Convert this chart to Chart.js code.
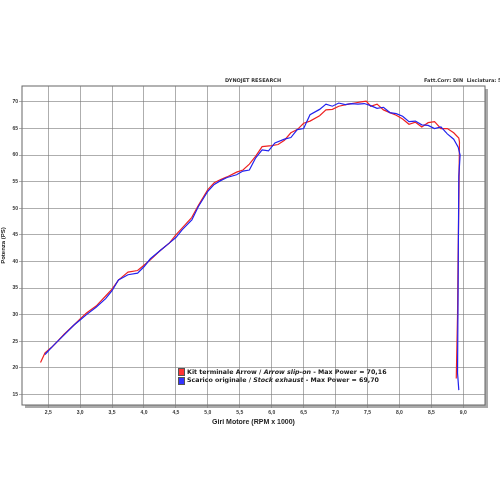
<!DOCTYPE html><html><head><script src="https://cdn.jsdelivr.net/npm/chart.js@4"></script>
<style>body{margin:0;background:#fff;font-family:"DejaVu Sans",sans-serif}#w{position:absolute;left:0;top:0;width:500px;height:500px}
.t{position:absolute;font-size:5px;font-weight:bold;color:#333;white-space:nowrap}
#lg{position:absolute;left:178px;top:368px;font-size:6.3px;font-weight:bold;color:#222;line-height:7px;white-space:nowrap}
#lg span.b{display:inline-block;width:5px;height:6px;vertical-align:middle;margin-right:2px;border:0.5px solid #555}</style></head><body>
<div id="w"><canvas id="c" width="500" height="500"></canvas></div>
<div class="t" style="left:225px;top:77px">DYNOJET RESEARCH</div>
<div class="t" style="left:424px;top:77px">Fatt.Corr: DIN&nbsp; Lisciatura: 5</div>
<div id="lg"><div><span class="b" style="background:#f33"></span>Kit terminale Arrow / <i>Arrow slip-on</i> - Max Power = 70,16</div><div><span class="b" style="background:#33f"></span>Scarico originale / <i>Stock exhaust</i> - Max Power = 69,70</div></div>
<script>
const xTicks=[2.5,3.0,3.5,4.0,4.5,5.0,5.5,6.0,6.5,7.0,7.5,8.0,8.5,9.0];
const yTicks=[15,20,25,30,35,40,45,50,55,60,65,70];
const redRpm=[2.38,2.45,2.55,2.65,2.75,2.9,3.0,3.1,3.25,3.4,3.5,3.6,3.75,3.9,4.0,4.1,4.25,4.4,4.5,4.6,4.75,4.85,5.0,5.1,5.2,5.3,5.45,5.55,5.65,5.75,5.85,6.0,6.1,6.2,6.3,6.4,6.5,6.6,6.75,6.85,6.95,7.05,7.2,7.3,7.4,7.48,7.55,7.65,7.75,7.85,7.95,8.05,8.15,8.25,8.35,8.45,8.55,8.65,8.75,8.85,8.93,8.94,8.91,8.89];
const redPs=[21,22.8,23.8,25,26.3,28,29.2,30.3,31.6,33.5,34.8,36.5,38,38.3,39.3,40.3,42,43.5,45,46.3,48.3,50.5,53.5,54.8,55.4,55.9,56.8,57.2,58.3,59.8,61.6,61.8,62,62.8,64.2,64.8,66,66.4,67.4,68.5,68.6,69.2,69.6,69.8,70.0,70.16,69.2,69.6,68.5,68,67.5,66.8,65.8,66.2,65.3,66.1,66.3,65,65,64.2,63.2,62.5,30,18];
const blueRpm=[2.45,2.55,2.65,2.75,2.9,3.0,3.1,3.25,3.4,3.5,3.6,3.75,3.9,4.0,4.1,4.25,4.4,4.5,4.6,4.75,4.85,5.0,5.1,5.2,5.3,5.45,5.55,5.65,5.75,5.85,5.95,6.05,6.2,6.3,6.4,6.5,6.6,6.75,6.85,6.95,7.05,7.15,7.25,7.35,7.45,7.55,7.65,7.75,7.85,7.95,8.05,8.15,8.25,8.35,8.45,8.55,8.65,8.75,8.85,8.92,8.95,8.93,8.91,8.93];
const bluePs=[22.5,23.8,25,26.2,28,29,30,31.4,33,34.5,36.5,37.5,37.8,39,40.5,42,43.5,44.5,46,47.8,50.3,53.2,54.5,55.2,55.8,56.3,57,57.2,59.5,61,60.8,62.3,63,63.3,64.8,65,67.6,68.6,69.6,69.2,69.8,69.5,69.7,69.6,69.7,69.3,68.8,69,68,67.8,67.3,66.3,66.4,65.7,65.6,65,65.3,64,63,61.5,60,56,19,15.8];
const mk=(x,y)=>x.map((v,i)=>({x:v,y:y[i]}));
const frame={id:'frame',beforeDraw(c){const a=c.chartArea,g=c.ctx;g.save();g.fillStyle='#aaa';g.fillRect(a.left+3,a.top+3,a.width,a.height);g.fillStyle='#fff';g.fillRect(a.left,a.top,a.width,a.height);g.strokeStyle='#666';g.lineWidth=1;g.strokeRect(a.left,a.top,a.width,a.height);g.restore();}};
const grid={color:'#777',lineWidth:0.6,borderDash:[1,1.5],drawTicks:true,tickLength:3};
new Chart(document.getElementById('c'),{type:'line',plugins:[frame],
data:{datasets:[{data:mk(blueRpm,bluePs),borderColor:'#2222ee',borderWidth:1.2,pointRadius:0,tension:0},{data:mk(redRpm,redPs),borderColor:'#ee2222',borderWidth:1.2,pointRadius:0,tension:0}]},
options:{responsive:false,animation:false,layout:{padding:{top:86,right:15,left:0,bottom:70}},plugins:{legend:{display:false},tooltip:{enabled:false}},
scales:{x:{type:'linear',min:2.09,max:9.34,afterBuildTicks:s=>{s.ticks=xTicks.map(v=>({value:v}))},afterFit:s=>{s.height=25},grid:grid,border:{display:false},
ticks:{font:{size:5,weight:'bold'},color:'#333',maxRotation:0,padding:2,callback:v=>v.toFixed(1).replace('.',',')},title:{display:true,text:'Giri Motore (RPM x 1000)',font:{size:7,weight:'bold'},color:'#222',padding:{top:1}}},
y:{min:13,max:73,afterBuildTicks:s=>{s.ticks=yTicks.map(v=>({value:v}))},afterFit:s=>{s.width=22},grid:grid,border:{display:false},
ticks:{font:{size:5,weight:'bold'},color:'#333',padding:1},title:{display:true,text:'Potenza (PS)',font:{size:6,weight:'bold'},color:'#222',padding:0}}}}});
</script></body></html>
